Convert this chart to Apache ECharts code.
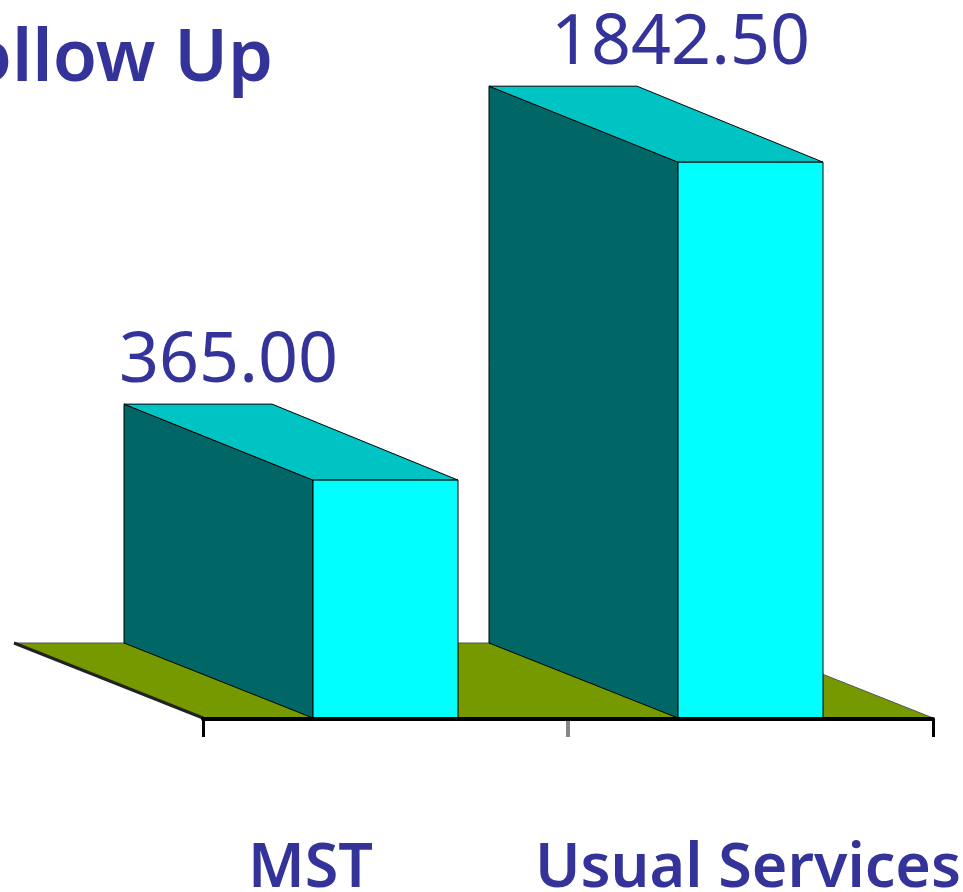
<!DOCTYPE html>
<html>
<head>
<meta charset="utf-8">
<style>html,body{margin:0;padding:0;background:#fff;overflow:hidden}#c{width:963px;height:892px}</style>
<script src="https://cdn.jsdelivr.net/npm/echarts@6/dist/echarts.min.js"></script>
</head>
<body>
<div id="c"></div>
<script>
const categories = ['MST', 'Usual Services'];
const values = [365.00, 1842.50];
const valueLabels = ['365.00', '1842.50'];
const chartTitle = 'Follow Up';

const BLUE = '#333399';
const FONT = '"Noto Sans", sans-serif';
const DX = -189, DX_TOP_RIGHT = -186, DY = -75, DY_TOP = -76;
const BAR_W = 145;
const LABEL_SHIFT = [-157, -70];

function poly(points, fill, stroke) {
  return { type: 'polygon', shape: { points }, style: { fill, stroke: stroke || '#000', lineWidth: 1 } };
}

const chart = echarts.init(document.getElementById('c'), null, { renderer: 'canvas' });
chart.setOption({
  animation: false,
  backgroundColor: '#fff',
  title: {
    text: chartTitle, left: 268, top: 19, textAlign: 'right',
    textStyle: { color: BLUE, fontFamily: FONT, fontSize: 72, fontWeight: 600 }
  },
  grid: { left: 203, right: 30, top: 0, bottom: 173, outerBoundsMode: 'none' },
  xAxis: {
    type: 'category', data: categories, boundaryGap: true, z: 5,
    axisLine: { onZero: false, lineStyle: { color: '#000', width: 4 } },
    axisTick: { show: true, alignWithLabel: false, length: 18, lineStyle: { color: '#000', width: 3 } },
    axisLabel: {
      margin: 120,
      formatter: (v, i) => i === 0 ? '{a|' + v + '}' : '{b|' + v + '}',
      rich: {
        a: { color: BLUE, fontFamily: FONT, fontSize: 61, fontWeight: 600, padding: [0, 150, 0, 0] },
        b: { color: BLUE, fontFamily: FONT, fontSize: 61, fontWeight: 600, padding: [0, 5, 0, 0] }
      }
    }
  },
  yAxis: { type: 'value', min: -745, max: 2596, show: false },
  series: [
    {
      type: 'custom', name: 'floor', silent: true, z: 1, data: [0],
      renderItem: (params, api) => {
        const cs = params.coordSys;
        const y0 = cs.y + cs.height - 1, x0 = cs.x, x1 = cs.x + cs.width;
        return {
          type: 'group', children: [
            poly([[x0, y0], [x1, y0], [x1 + DX, y0 + DY], [x0 + DX, y0 + DY]], '#779900', '#555'),
            { type: 'line', shape: { x1: x0 + DX, y1: y0 + DY, x2: x0, y2: y0 }, style: { stroke: '#222', lineWidth: 3 } }
          ]
        };
      }
    },
    {
      type: 'custom', name: 'values', z: 3,
      data: values.map((v, i) => [i, v]),
      renderItem: (params, api) => {
        const top = api.coord([api.value(0), api.value(1)]);
        const y0 = params.coordSys.y + params.coordSys.height - 1;
        const l = top[0] - BAR_W / 2, r = top[0] + BAR_W / 2, t = top[1];
        const i = params.dataIndex;
        return {
          type: 'group', children: [
            poly([[l, t], [l, y0], [l + DX, y0 + DY], [l + DX, t + DY_TOP]], '#006666'),
            poly([[l, t], [r, t], [r + DX_TOP_RIGHT, t + DY_TOP], [l + DX, t + DY_TOP]], '#00C4C4'),
            poly([[l, t], [r, t], [r, y0], [l, y0]], '#00FFFF'),
            {
              type: 'text',
              style: {
                x: top[0] + LABEL_SHIFT[i], y: t + DY_TOP - 7,
                text: valueLabels[i], fill: BLUE,
                font: '400 70px ' + FONT, textAlign: 'center', textVerticalAlign: 'bottom'
              }
            }
          ]
        };
      }
    },
    {
      type: 'custom', name: 'midTick', silent: true, z: 6, data: [0],
      renderItem: (params, api) => {
        const cs = params.coordSys;
        const y0 = cs.y + cs.height, xm = cs.x + cs.width / 2;
        return { type: 'line', shape: { x1: xm, y1: y0 + 2, x2: xm, y2: y0 + 18 }, style: { stroke: '#888', lineWidth: 4 } };
      }
    }
  ]
});
</script>
</body>
</html>
